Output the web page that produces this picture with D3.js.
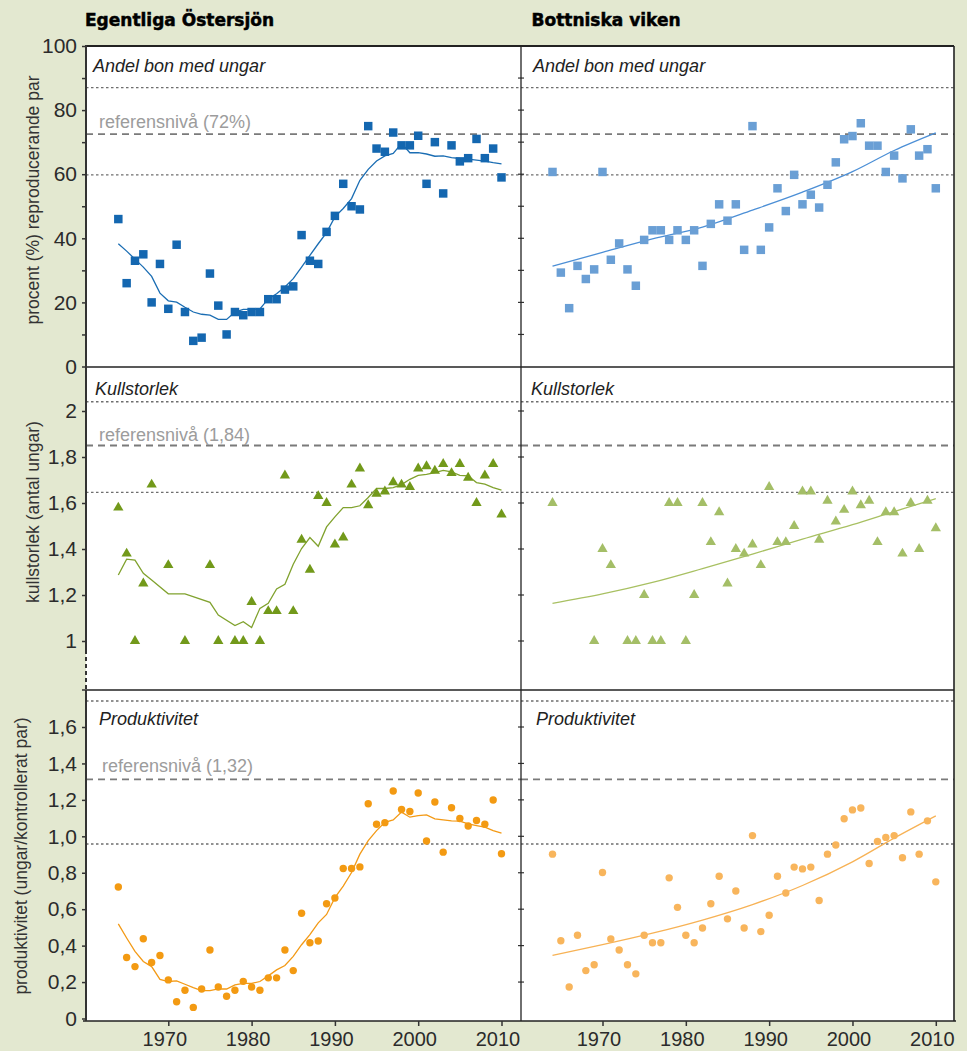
<!DOCTYPE html>
<html>

<head>
  <meta charset="utf-8">
  <title>Havsörn – reproduktion</title>
  <script src="https://cdnjs.cloudflare.com/ajax/libs/d3/7.8.5/d3.min.js"></script>
  <style>
    html,
    body {
      margin: 0;
      padding: 0;
      background: #e3e8d0;
    }

    svg {
      display: block;
      font-family: 'Liberation Sans', Arial, sans-serif;
    }
  </style>
</head>

<body>
  <svg id="chart" width="967" height="1051"></svg>
  <script>
    const years = d3.range(1964, 2011)

    // Egentliga Östersjön
    const eoNests = [46, 26, 33, 35, 20, 32, 18, 38, 17, 8,
      9, 29, 19, 10, 17, 16, 17, 17, 21, 21,
      24, 25, 41, 33, 32, 42, 47, 57, 50, 49,
      75, 68, 67, 73, 69, 69, 72, 57, 70, 54,
      69, 64, 65, 71, 65, 68, 59]
    const eoNestsSmooth = [38.3, 36.0, 33.5, 31.0, 28.1, 22.9, 20.5, 20.1, 18.5, 17.0,
      16.3, 16.0, 14.7, 14.7, 17.0, 17.8, 17.8, 18.0, 21.1, 22.7,
      24.8, 27.4, 31.0, 34.7, 38.3, 41.8, 46.7, 49.3, 52.4, 58.1,
      61.5, 64.1, 65.7, 66.5, 69.6, 66.7, 66.7, 66.3, 65.6, 65.7,
      65.2, 64.9, 64.7, 64.4, 64.1, 63.6, 63.2]
    const eoBrood = [1.58, 1.38, 1.0, 1.25, 1.68, null, 1.33, null, 1.0, null,
      null, 1.33, 1.0, null, 1.0, 1.0, 1.17, 1.0, 1.13, 1.13,
      1.72, 1.13, 1.44, 1.31, 1.63, 1.6, 1.42, 1.45, 1.68, 1.75,
      1.59, 1.64, 1.65, 1.69, 1.68, 1.67, 1.75, 1.76, 1.74, 1.77,
      1.73, 1.77, 1.71, 1.6, 1.72, 1.77, 1.55]
    const eoBroodSmooth = [1.287, 1.356, 1.352, 1.294, 1.265, null, 1.205, null, 1.205, null,
      null, 1.168, 1.113, null, 1.067, 1.084, 1.059, 1.142, 1.164, 1.226,
      1.247, 1.334, 1.402, 1.45, 1.412, 1.496, 1.54, 1.58, 1.58, 1.588,
      1.624, 1.663, 1.663, 1.667, 1.68, 1.703, 1.72, 1.724, 1.732, 1.742,
      1.735, 1.72, 1.718, 1.689, 1.682, 1.667, 1.656]
    const eoProd = [0.722, 0.335, 0.285, 0.438, 0.308, 0.346, 0.212, 0.092, 0.155, 0.061,
      0.162, 0.376, 0.173, 0.122, 0.155, 0.204, 0.173, 0.155, 0.223, 0.223,
      0.376, 0.263, 0.578, 0.416, 0.425, 0.63, 0.661, 0.823, 0.823, 0.832,
      1.179, 1.066, 1.075, 1.249, 1.147, 1.136, 1.238, 0.974, 1.188, 0.913,
      1.157, 1.098, 1.057, 1.087, 1.066, 1.199, 0.904]
    const eoProdSmooth = [0.519, 0.442, 0.368, 0.313, 0.285, 0.215, 0.203, 0.206, 0.188, 0.169,
      0.153, 0.153, 0.162, 0.162, 0.184, 0.193, 0.193, 0.203, 0.234, 0.267,
      0.291, 0.341, 0.405, 0.46, 0.525, 0.571, 0.663, 0.727, 0.801, 0.902,
      0.976, 1.031, 1.077, 1.09, 1.133, 1.105, 1.114, 1.118, 1.096, 1.09,
      1.085, 1.083, 1.068, 1.059, 1.05, 1.031, 1.017]

    // Bottniska viken
    const bvNests = [60.7, 29.3, 18.2, 31.4, 27.3, 30.3, 60.7, 33.3, 38.4, 30.3,
      25.2, 39.5, 42.5, 42.5, 39.5, 42.5, 39.5, 42.5, 31.4, 44.5,
      50.6, 45.5, 50.6, 36.4, 75, 36.4, 43.4, 55.6, 48.5, 59.8,
      50.6, 53.6, 49.6, 56.7, 63.7, 70.9, 71.9, 75.9, 68.9, 68.9,
      60.7, 65.8, 58.7, 74, 65.8, 67.8, 55.6]
    const bvBrood = [1.6, null, null, null, null, 1.0, 1.4, 1.33, null, 1.0,
      1.0, 1.2, 1.0, 1.0, 1.6, 1.6, 1.0, 1.2, 1.6, 1.43,
      1.56, 1.25, 1.4, 1.38, 1.42, 1.33, 1.67, 1.43, 1.43, 1.5,
      1.65, 1.65, 1.44, 1.61, 1.52, 1.57, 1.65, 1.59, 1.61, 1.43,
      1.56, 1.56, 1.38, 1.6, 1.4, 1.61, 1.49]
    const bvProd = [0.902, 0.427, 0.173, 0.457, 0.263, 0.295, 0.801, 0.436, 0.376, 0.295,
      0.245, 0.457, 0.416, 0.416, 0.772, 0.61, 0.457, 0.416, 0.497, 0.63,
      0.781, 0.547, 0.7, 0.497, 1.004, 0.477, 0.567, 0.781, 0.689, 0.831,
      0.821, 0.831, 0.648, 0.902, 0.952, 1.096, 1.145, 1.155, 0.851, 0.972,
      0.994, 1.004, 0.882, 1.134, 0.902, 1.085, 0.75]

    const trendYears = [1964, 1970, 1976, 1982, 1988, 1994, 2000, 2005, 2010]
    const bvNestsTrend = [31.3, 35.6, 39.8, 43.5, 48.8, 54.4, 60.8, 67.4, 72.9]
    const bvBroodTrend = [1.164, 1.205, 1.255, 1.315, 1.378, 1.443, 1.506, 1.563, 1.619]
    const bvProdTrend = [0.347, 0.405, 0.468, 0.54, 0.625, 0.73, 0.86, 0.99, 1.112]

    // upper dotted, reference (dashed), lower dotted
    const nestRef = [87, 72.5, 59.8]
    const broodRef = [2.04, 1.85, 1.646]
    const prodRef = [1.743, 1.313, 0.958]

    const xTicks = [1970, 1980, 1990, 2000, 2010]
    const nestTicks = [0, 10, 20, 30, 40, 50, 60, 70, 80, 90, 100]
    const broodTicks = [1, 1.2, 1.4, 1.6, 1.8, 2]
    const prodTicks = [0, 0.2, 0.4, 0.6, 0.8, 1.0, 1.2, 1.4, 1.6]

    const headers = ['Egentliga Östersjön', 'Bottniska viken']
    const rowTitles = ['Andel bon med ungar', 'Kullstorlek', 'Produktivitet']
    const refLabels = ['referensnivå (72%)', 'referensnivå (1,84)', 'referensnivå (1,32)']
    const axisTitles = ['procent (%) reproducerande par', 'kullstorlek (antal ungar)',
      'produktivitet (ungar/kontrollerat par)']

    const colors = {
      square: ['#1467b0', '#6a9fd5'],
      squareLine: ['#1a6db3', '#4c8fd6'],
      tri: ['#72991a', '#a4be67'],
      triLine: ['#80a22e', '#a8c062'],
      dot: ['#f39a12', '#f8b55c'],
      dotLine: ['#f39a16', '#f7b255']
    }

    let svg = d3.select('#chart')
    let left = 86, mid = 521, right = 954, axisY = 1021

    let xs = [
      d3.scaleLinear([1970, 2010], [168.3, 501.5]),
      d3.scaleLinear([1970, 2010], [602.5, 935.8])
    ]
    let yNest = d3.scaleLinear([0, 100], [366.5, 46])
    let yBrood = d3.scaleLinear([1, 2], [641, 411])
    let yProd = d3.scaleLinear([0, 1.6], [1018.5, 727])

    const comma = d3.formatLocale({ decimal: ',', thousands: ' ', grouping: [3], currency: ['', ''] })
    const f1 = comma.format('.1f')

    let rows = [
      {
        y: yNest, top: 46, bottom: 367, ref: nestRef, symbol: 'square',
        values: [eoNests, bvNests], smooth: eoNestsSmooth, trend: bvNestsTrend,
        ticks: nestTicks, fmt: d => d % 20 ? '' : d, inner: nestTicks.filter(d => d > 0 && d < 100),
        titleY: 72, refY: 128, titleX: [93, 533], refX: 99, axisT: [39, 200]
      },
      {
        y: yBrood, top: 367, bottom: 690, ref: broodRef, symbol: 'tri',
        values: [eoBrood, bvBrood], smooth: eoBroodSmooth, trend: bvBroodTrend,
        ticks: broodTicks, fmt: d => d % 1 ? f1(d) : d, inner: broodTicks,
        titleY: 395, refY: 441, titleX: [95, 531], refX: 99, axisT: [39, 512]
      },
      {
        y: yProd, top: 690, bottom: axisY, ref: prodRef, symbol: 'dot',
        values: [eoProd, bvProd], smooth: eoProdSmooth, trend: bvProdTrend,
        ticks: prodTicks, fmt: d => d === 0 ? '0' : f1(d), inner: prodTicks.filter(d => d > 0),
        titleY: 725, refY: 772, titleX: [99, 536], refX: 102, axisT: [26.5, 856]
      }
    ]

    // white plotting area
    svg.append('rect')
      .attr('x', left).attr('y', 46)
      .attr('width', right - left).attr('height', axisY - 46)
      .attr('fill', '#fff')

    rows.forEach((row, ri) => {
      let y = row.y
      let g = svg.append('g')

      // reference lines in both columns
      ;[[left, mid], [mid, right]].forEach(([x0, x1]) => {
        row.ref.forEach((v, i) => {
          g.append('line')
            .attr('x1', x0).attr('x2', x1)
            .attr('y1', y(v)).attr('y2', y(v))
            .attr('stroke', i === 1 ? '#7a7a7a' : '#6e6e6e')
            .attr('stroke-width', i === 1 ? 1.8 : 1.4)
            .attr('stroke-dasharray', i === 1 ? '7,5' : '2.5,2.5')
        })
      })

      g.append('text')
        .attr('x', row.refX).attr('y', row.refY)
        .attr('font-size', 18).attr('fill', '#9c9c9c')
        .text(refLabels[ri])

      row.titleX.forEach(tx => {
        g.append('text')
          .attr('x', tx).attr('y', row.titleY)
          .attr('font-size', 18).attr('font-style', 'italic').attr('fill', '#222')
          .text(rowTitles[ri])
      })

      // smoothed line (left) and fitted trend (right)
      let pts = years.map((yr, i) => [yr, row.smooth[i]]).filter(d => d[1] != null)
      let lineKey = row.symbol === 'square' ? 'squareLine' : row.symbol === 'tri' ? 'triLine' : 'dotLine'
      g.append('path')
        .attr('d', d3.line().x(d => xs[0](d[0])).y(d => y(d[1]))(pts))
        .attr('fill', 'none').attr('stroke', colors[lineKey][0]).attr('stroke-width', 1.3)
      g.append('path')
        .attr('d', d3.line().curve(d3.curveMonotoneX)
          .x((d, i) => xs[1](d)).y((d, i) => y(row.trend[i]))(trendYears))
        .attr('fill', 'none').attr('stroke', colors[lineKey][1]).attr('stroke-width', 1.3)

      // markers
      row.values.forEach((vals, ci) => {
        let data = years.map((yr, i) => [yr, vals[i]]).filter(d => d[1] != null)
        let mg = g.append('g')
        if (row.symbol === 'dot') {
          mg.selectAll('circle').data(data).join('circle')
            .attr('cx', d => xs[ci](d[0])).attr('cy', d => y(d[1]))
            .attr('r', 3.7).attr('fill', colors.dot[ci])
        } else {
          let type = row.symbol === 'square' ? d3.symbolSquare : d3.symbolTriangle
          let size = row.symbol === 'square' ? 72 : 46
          mg.selectAll('path').data(data).join('path')
            .attr('transform', d => `translate(${xs[ci](d[0])},${y(d[1])})`)
            .attr('d', d3.symbol().type(type).size(size))
            .attr('fill', colors[row.symbol][ci])
        }
      })

      // left axis ticks and labels
      svg.append('g')
        .attr('transform', `translate(${left},0)`)
        .call(d3.axisLeft(y).tickValues(row.ticks).tickSize(4).tickPadding(5).tickFormat(row.fmt))
        .call(a => a.select('.domain').remove())
        .call(a => a.selectAll('line').attr('stroke', '#333').attr('stroke-width', 1.5))
        .call(a => a.selectAll('text').attr('font-size', 21).attr('fill', '#2b2b2b')
          .attr('font-family', "'Liberation Sans', Arial, sans-serif"))

      // small ticks on the column divider
      svg.append('g').selectAll('line').data(row.inner).join('line')
        .attr('x1', mid - 3).attr('x2', mid + 3)
        .attr('y1', d => y(d)).attr('y2', d => y(d))
        .attr('stroke', '#333').attr('stroke-width', 1.2)

      svg.append('text')
        .attr('transform', `translate(${row.axisT[0]},${row.axisT[1]}) rotate(-90)`)
        .attr('text-anchor', 'middle')
        .attr('font-size', 17.5).attr('fill', '#333')
        .text(axisTitles[ri])
    })

    // frame
    let frame = svg.append('g').attr('stroke', '#222').attr('fill', 'none')
    frame.append('line').attr('x1', left).attr('x2', right).attr('y1', 46).attr('y2', 46).attr('stroke-width', 2)
    frame.append('line').attr('x1', left).attr('x2', right).attr('y1', 367).attr('y2', 367).attr('stroke-width', 1.6)
    frame.append('line').attr('x1', left).attr('x2', right).attr('y1', 690).attr('y2', 690).attr('stroke-width', 1.6)
    frame.append('line').attr('x1', mid).attr('x2', mid).attr('y1', 46).attr('y2', axisY).attr('stroke-width', 1.3)
    frame.append('line').attr('x1', right).attr('x2', right).attr('y1', 46).attr('y2', axisY).attr('stroke-width', 1.6)
    frame.append('line').attr('x1', 83).attr('x2', right + 2).attr('y1', axisY).attr('y2', axisY).attr('stroke-width', 1.6)

    // left axis, broken below 1 in the brood size panel
    let yAxisLine = svg.append('g').attr('stroke', '#333').attr('stroke-width', 2)
    yAxisLine.append('line').attr('x1', left).attr('x2', left).attr('y1', 45).attr('y2', 650)
    yAxisLine.append('line').attr('x1', left).attr('x2', left).attr('y1', 650).attr('y2', 690)
      .attr('stroke-dasharray', '4,3')
    yAxisLine.append('line').attr('x1', left).attr('x2', left).attr('y1', 690).attr('y2', axisY)
    yAxisLine.append('line').attr('x1', left - 4).attr('x2', left).attr('y1', 690).attr('y2', 690)
      .attr('stroke-width', 1.5)

    // x axes
    xs.forEach(x => {
      svg.append('g')
        .attr('transform', `translate(0,${axisY})`)
        .call(d3.axisBottom(x).tickValues(xTicks).tickSize(5).tickPadding(6).tickFormat(d3.format('d')))
        .call(a => a.select('.domain').remove())
        .call(a => a.selectAll('line').attr('stroke', '#333').attr('stroke-width', 1.5))
        .call(a => a.selectAll('text').attr('font-size', 20).attr('fill', '#2b2b2b').attr('dx', -4)
          .attr('font-family', "'Liberation Sans', Arial, sans-serif"))
    })

    // column headers
    svg.selectAll('.hdr').data(headers).join('text')
      .attr('class', 'hdr')
      .attr('x', (d, i) => i ? 531.5 : 85).attr('y', 26)
      .attr('font-family', "'DejaVu Sans', sans-serif")
      .attr('font-weight', 'bold').attr('font-size', 17)
      .attr('fill', '#000').attr('stroke', '#000').attr('stroke-width', 0.5)
      .text(d => d)
  </script>
</body>

</html>
